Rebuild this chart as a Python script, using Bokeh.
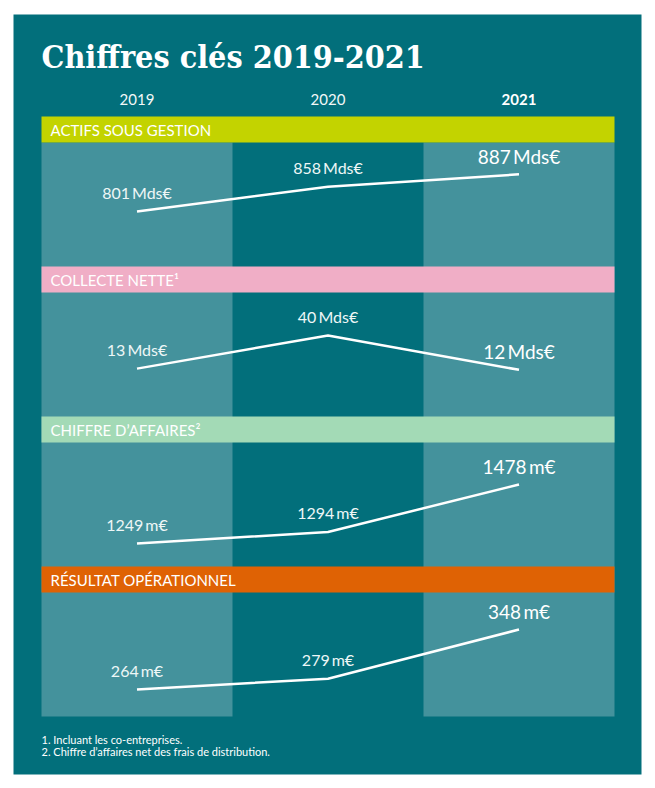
from bokeh.plotting import figure
from bokeh.models import Range1d, ColumnDataSource
from bokeh.core.properties import value
from bokeh.embed import file_html
from bokeh.resources import INLINE

# ---- data ----
title = "Chiffres clés 2019-2021"
years = ["2019", "2020", "2021"]
sections = ["ACTIFS SOUS GESTION", "COLLECTE NETTE¹", "CHIFFRE D’AFFAIRES²", "RÉSULTAT OPÉRATIONNEL"]
units = ["Mds€", "Mds€", "m€", "m€"]
actifs = [801, 858, 887]
collecte = [13, 40, 12]
chiffre_affaires = [1249, 1294, 1478]
resultat = [264, 279, 348]
series = [actifs, collecte, chiffre_affaires, resultat]
value_ranges = [(673, 961), (-26, 75), (1160, 1641), (226, 400)]
footnotes = ["1. Incluant les co-entreprises.", "2. Chiffre d’affaires net des frais de distribution."]

# ---- style / layout ----
TEAL = "#026f7b"
LIGHT = "#44929c"
HEADER_COLORS = ["#c3d300", "#f0aec6", "#a3dab6", "#df6204"]
SANS = "Lato"
SERIF = "DejaVu Serif Condensed"
BOX_L, BOX_R, BOX_T, BOX_B = 13, 641, 14, 774
COL_PX = 191
FIRST_HEADER = 116
HEADER_H = 26
PANEL_H = 124

W = BOX_R + 6
H = BOX_B + 6

idx = list(range(len(years)))

p = figure(width=W, height=H, output_backend="svg", toolbar_location=None,
           x_axis_type=None, y_axis_type=None,
           x_range=Range1d(-0.5 - 28 / COL_PX, 2.5 + 27 / COL_PX),
           y_range=Range1d(BOX_B, BOX_T),
           min_border_left=BOX_L, min_border_right=6, min_border_top=BOX_T, min_border_bottom=6,
           background_fill_color=TEAL, border_fill_color="white", outline_line_color=None)
p.grid.visible = False

# light columns (2019, 2021)
panels_top = FIRST_HEADER + HEADER_H
panels_bottom = FIRST_HEADER + 4 * (HEADER_H + PANEL_H)
p.quad(left=[-0.5, 1.5], right=[0.5, 2.5], top=[panels_top] * 2, bottom=[panels_bottom] * 2,
       fill_color=LIGHT, line_color=None)

# title
p.text(x=[-0.5], y=[56], text=[title], text_font=value(SERIF), text_font_style="bold",
       text_font_size="32px", text_color="white", text_baseline="middle", text_align="left")

# years
p.text(x=idx[:2], y=[99, 99], text=years[:2], text_font=value(SANS), text_font_size="15px",
       text_color="#f2f8f8", text_baseline="middle", text_align="center")
p.text(x=idx[2:], y=[99], text=years[2:], text_font=value(SANS), text_font_style="bold",
       text_font_size="15px", text_color="white", text_baseline="middle", text_align="center")

for k, (name, vals, unit, (lo, hi), col) in enumerate(zip(sections, series, units, value_ranges, HEADER_COLORS)):
    htop = FIRST_HEADER + k * (HEADER_H + PANEL_H)
    t = htop + HEADER_H
    b = t + PANEL_H
    # header bar
    p.quad(left=[-0.5], right=[2.5], top=[htop], bottom=[htop + HEADER_H], fill_color=col, line_color=None)
    p.text(x=[-0.5], y=[htop + HEADER_H / 2], text=[name], x_offset=9, text_font=value(SANS),
           text_font_size="15px", text_color="white", text_baseline="middle", text_align="left")
    # value range for this panel
    s = (hi - lo) / (b - t)
    rname = f"p{k}"
    p.extra_y_ranges[rname] = Range1d(start=lo - (BOX_B - b) * s, end=hi + (t - BOX_T) * s)
    p.line(x=idx, y=vals, y_range_name=rname, line_color="white", line_width=2.5)
    labels = [f"{v}\u2009{unit}" for v in vals]
    src = ColumnDataSource(dict(x=idx[:2], y=vals[:2], t=labels[:2]))
    p.text(x="x", y="y", text="t", source=src, y_range_name=rname, y_offset=-19,
           text_font=value(SANS), text_font_size="16px", text_color="#eef7f7",
           text_baseline="middle", text_align="center")
    src2 = ColumnDataSource(dict(x=idx[2:], y=vals[2:], t=labels[2:]))
    p.text(x="x", y="y", text="t", source=src2, y_range_name=rname, y_offset=-18,
           text_font=value(SANS), text_font_size="19px", text_color="white",
           text_baseline="middle", text_align="center")

# footnotes
p.text(x=[-0.5, -0.5], y=[739, 751], text=footnotes, text_font=value(SANS), text_font_size="11px",
       text_color="white", text_baseline="middle", text_align="left")

open("out.html", "w").write(file_html(p, INLINE))
